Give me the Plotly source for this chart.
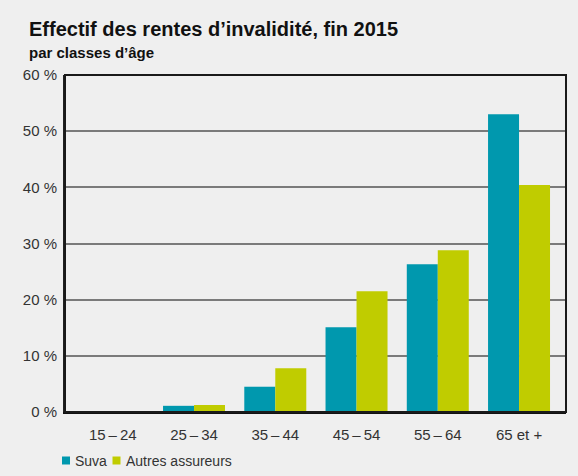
import plotly.graph_objects as go

categories = ["15\u2009–\u200924", "25\u2009–\u200934", "35\u2009–\u200944", "45\u2009–\u200954", "55\u2009–\u200964", "65 et +"]
series_names = ["Suva", "Autres assureurs"]
suva = [0.0, 1.1, 4.5, 15.1, 26.3, 53.0]
autres = [0.0, 1.25, 7.8, 21.5, 28.8, 40.4]
y_ticks = [0, 10, 20, 30, 40, 50, 60]
y_labels = [f"{v} %" for v in y_ticks]

FONT = "Liberation Sans, Arial, sans-serif"
BG = "#efefef"
COLORS = ["#0098ae", "#c0cc00"]

# plot geometry (pixels)
W, H = 578, 476
L, R, T, B = 65, 12, 75, 64
PW, PH = W - L - R, H - T - B


def px(x):
    return (x - L) / PW


def py(y):
    return (H - B - y) / PH


fig = go.Figure()
for name, vals, col in zip(series_names, [suva, autres], COLORS):
    fig.add_trace(go.Bar(name=name, x=categories, y=vals, marker=dict(color=col, line=dict(width=0))))

shapes = [
    # plot frame
    dict(type="rect", xref="paper", yref="paper", x0=0, x1=1, y0=0, y1=1,
         line=dict(color="#1a1a1a", width=2), fillcolor="rgba(0,0,0,0)", layer="above"),
]
annotations = [
    dict(text="<b>Effectif des rentes d’invalidité, fin 2015</b>", xref="paper", yref="paper",
         x=px(27), y=py(16), xanchor="left", yanchor="top", showarrow=False,
         font=dict(size=20, color="#111111", family=FONT)),
    dict(text="<b>par classes d’âge</b>", xref="paper", yref="paper",
         x=px(27), y=py(42), xanchor="left", yanchor="top", showarrow=False,
         font=dict(size=15, color="#111111", family=FONT)),
]
# legend drawn as small squares + labels, like the original
leg_x = [62, 112.5]
for name, col, lx in zip(series_names, COLORS, leg_x):
    shapes.append(dict(type="rect", xref="paper", yref="paper",
                       x0=px(lx), x1=px(lx + 8), y0=py(464.5), y1=py(456.5),
                       fillcolor=col, line=dict(width=0), layer="above"))
    annotations.append(dict(text=name, xref="paper", yref="paper", x=px(lx + 11), y=py(461),
                            xanchor="left", yanchor="middle", showarrow=False,
                            font=dict(size=14, color="#333333", family=FONT)))

fig.update_layout(
    width=W, height=H,
    paper_bgcolor=BG, plot_bgcolor=BG,
    margin=dict(l=L, r=R, t=T, b=B, autoexpand=False),
    barmode="group", bargap=0.237, bargroupgap=0,
    font=dict(family=FONT, size=15, color="#333333"),
    showlegend=False,
    shapes=shapes,
    annotations=annotations,
)

fig.update_xaxes(
    type="category", range=[-0.588, 5.578],
    showline=True, linecolor="#111111", linewidth=2,
    showgrid=False, ticks="", ticklabelstandoff=8,
    tickfont=dict(size=15, color="#333333"),
)
fig.update_yaxes(
    range=[0, 60], tickvals=y_ticks, ticktext=y_labels,
    showline=True, linecolor="#222222", linewidth=2,
    showgrid=True, gridcolor="#7a7a7a", gridwidth=2,
    zeroline=True, zerolinecolor="#111111", zerolinewidth=2,
    ticks="", ticklabelstandoff=3,
    tickfont=dict(size=15, color="#333333"),
)

post = ("document.documentElement.style.margin='0';document.documentElement.style.overflow='hidden';"
        "document.body.style.margin='0';document.body.style.padding='0';document.body.style.overflow='hidden';")
fig.write_html("out.html", config={"displayModeBar": False}, post_script=post)
